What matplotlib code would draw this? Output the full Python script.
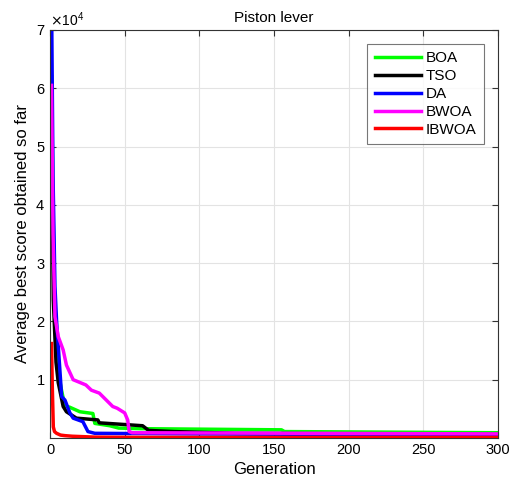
import numpy as np
import matplotlib.pyplot as plt
from matplotlib.ticker import ScalarFormatter

plt.rcParams['font.family'] = ['Liberation Sans', 'DejaVu Sans']

# convergence curves: (generation, score) breakpoints
boa_gen = [1, 2, 3, 5, 7.7, 10, 13, 20, 28.7, 30, 40, 46, 60, 155, 157, 300]
boa_val = [62000, 40000, 22000, 12000, 8200, 5400, 5300, 4500, 4200, 2500, 2100, 1700, 1600, 1400, 1100, 900]

tso_gen = [1, 2.2, 4, 5.5, 8.8, 11, 17.7, 32, 33, 62, 66, 83, 124, 300]
tso_val = [55000, 23700, 13000, 9500, 5400, 4500, 3400, 3100, 2600, 2100, 1300, 1100, 800, 600]

da_gen = [1, 2, 3.3, 4.4, 7.8, 10, 13.3, 15.5, 22, 25.4, 30, 100, 300]
da_val = [76000, 45000, 26000, 20000, 7100, 6500, 4300, 3400, 2800, 1100, 800, 700, 500]

bwoa_gen = [1, 2, 3.3, 5.5, 8.8, 11, 15.5, 24, 27.7, 33, 42, 45, 50, 52, 53, 55, 300]
bwoa_val = [60500, 35000, 20800, 17400, 15100, 12500, 10000, 9100, 8200, 7700, 5400, 5100, 4300, 3100, 1100, 900, 700]

ibwoa_gen = [1, 1.5, 2.2, 3, 4.4, 7, 10, 15, 30, 60, 300]
ibwoa_val = [16200, 9000, 1900, 1100, 800, 500, 400, 300, 150, 100, 80]

series = [
    ('BOA', boa_gen, boa_val, '#00ff00'),
    ('TSO', tso_gen, tso_val, 'black'),
    ('DA', da_gen, da_val, 'blue'),
    ('BWOA', bwoa_gen, bwoa_val, 'magenta'),
    ('IBWOA', ibwoa_gen, ibwoa_val, 'red'),
]

fig = plt.figure(figsize=(5.12, 4.83), dpi=100)
ax = fig.add_axes([0.0977, 0.0932, 0.875, 0.8447])

for name, g, v, c in series:
    ax.plot(g, v, color=c, lw=2.5, label=name)

ax.set_xlim(0, 300)
ax.set_ylim(0, 70000)
ax.set_xticks(np.arange(0, 301, 50))
ax.set_yticks(np.arange(10000, 70001, 10000))
fmt = ScalarFormatter(useMathText=True)
fmt.set_powerlimits((0, 0))
ax.yaxis.set_major_formatter(fmt)
ax.yaxis.get_offset_text().set_fontsize(10)

ax.grid(True, color='#e3e3e3', lw=0.8)
ax.set_axisbelow(True)
ax.tick_params(direction='in', top=True, right=True, labelsize=10.5, length=4, color='#333333')
for s in ax.spines.values():
    s.set_color('#333333')
    s.set_linewidth(0.8)

ax.set_title('Piston lever', fontsize=11)
ax.set_xlabel('Generation', fontsize=12)
ax.set_ylabel('Average best score obtained so far', fontsize=12)

leg = ax.legend(loc='upper right', bbox_to_anchor=(0.985, 0.985), fontsize=11,
                fancybox=False, edgecolor='#555555', handlelength=3.0,
                borderpad=0.5, labelspacing=0.25, handletextpad=0.3)
leg.get_frame().set_linewidth(0.8)

fig.savefig('out.png', dpi=100)
